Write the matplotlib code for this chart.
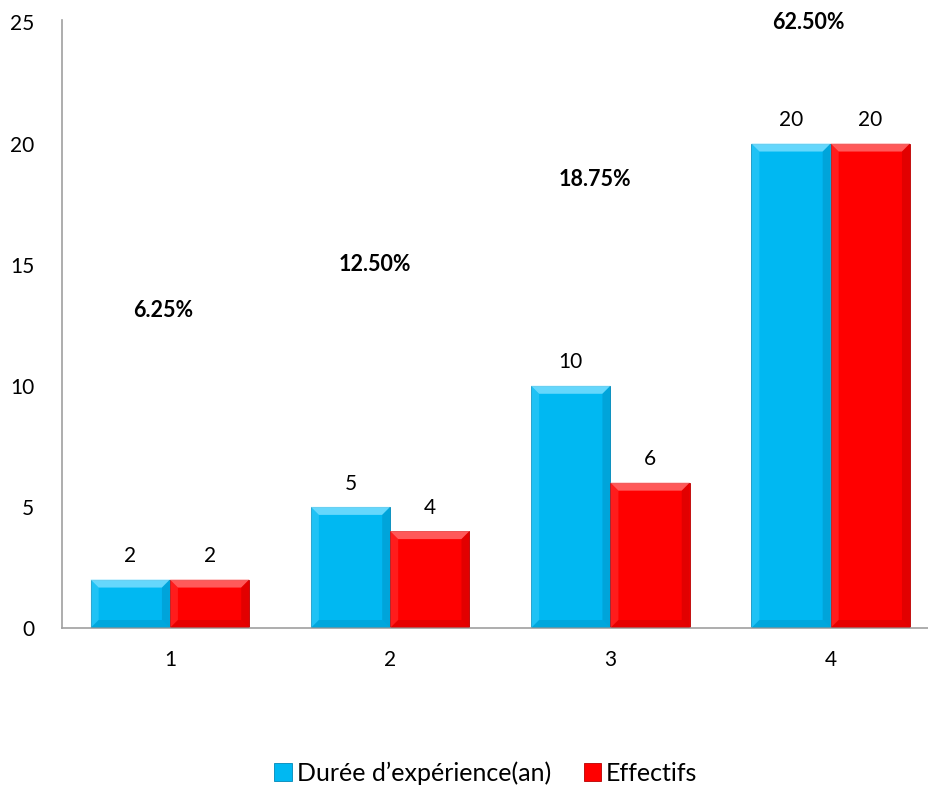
import matplotlib
matplotlib.use("Agg")
import matplotlib.pyplot as plt
from matplotlib.patches import Polygon
import numpy as np

plt.rcParams['font.family'] = ['Lato', 'DejaVu Sans']

categories = ["1", "2", "3", "4"]
duree = [2, 5, 10, 20]
effectifs = [2, 4, 6, 20]
pct_labels = ["6.25%", "12.50%", "18.75%", "62.50%"]
pct_y = [13.1, 15.0, 18.5, 25.0]
pct_dx = [-0.03, -0.07, -0.07, -0.10]

series = [
    ("Durée d\u2019expérience(an)", duree, "#00b8f2", "#7fe0ff", "#0088b8"),
    ("Effectifs", effectifs, "#ff0000", "#ff7070", "#b80000"),
]

W, H = 929, 787
fig = plt.figure(figsize=(W / 100, H / 100), dpi=100)
ax = fig.add_axes([62 / W, 1 - 628 / H, 881 / W, 608 / H])

x = np.arange(1, len(categories) + 1)
bw = 0.36

ax.set_xlim(0.51, len(categories) + 0.51)
ax.set_ylim(0, 25.1)


def bevel(ax, bar, light, dark, px=8):
    # Bevelled look on a bar: light top facet, soft shaded side and bottom facets
    x0, y0 = bar.get_x(), bar.get_y()
    w, h = bar.get_width(), bar.get_height()
    inv = ax.transData.inverted()
    p0 = ax.transData.transform((x0, y0))
    dx = inv.transform(p0 + np.array([px, 0]))[0] - x0
    dy = inv.transform(p0 + np.array([0, px]))[1] - y0
    dx = min(dx, w / 2)
    dy = min(dy, h / 2)
    x1, y1 = x0 + w, y0 + h
    faces = [
        ([(x0, y1), (x1, y1), (x1 - dx, y1 - dy), (x0 + dx, y1 - dy)], light, 0.8),
        ([(x0, y0), (x0, y1), (x0 + dx, y1 - dy), (x0 + dx, y0 + dy)], light, 0.25),
        ([(x1, y0), (x1, y1), (x1 - dx, y1 - dy), (x1 - dx, y0 + dy)], dark, 0.4),
        ([(x0, y0), (x1, y0), (x1 - dx, y0 + dy), (x0 + dx, y0 + dy)], dark, 0.35),
    ]
    for pts, c, a in faces:
        ax.add_patch(Polygon(pts, closed=True, facecolor=c, edgecolor="none",
                             alpha=a, zorder=3))


handles = []
for i, (name, vals, col, light, dark) in enumerate(series):
    offs = -bw / 2 if i == 0 else bw / 2
    bars = ax.bar(x + offs, vals, bw, color=col, edgecolor=dark, linewidth=0.6,
                  zorder=2, label=name)
    handles.append(bars)
    for b, v in zip(bars, vals):
        bevel(ax, b, light, dark)
        ax.text(b.get_x() + b.get_width() / 2, v + 0.55, str(v), ha="center",
                va="bottom", fontsize=15, color="black")

for xi, lab, yy, d in zip(x, pct_labels, pct_y, pct_dx):
    ax.text(xi + d, yy, lab, ha="center", va="center", fontsize=15.5,
            fontweight="bold", color="black", clip_on=False)

for s in ["top", "right"]:
    ax.spines[s].set_visible(False)
for s in ["left", "bottom"]:
    ax.spines[s].set_color("#a0a0a0")
    ax.spines[s].set_linewidth(1.2)

ax.set_xticks(x)
ax.set_xticklabels(categories)
ax.set_yticks(np.arange(0, 26, 5))
ax.tick_params(axis="both", length=0, labelsize=15)
ax.tick_params(axis="x", pad=16)
ax.tick_params(axis="y", pad=20)

fig.legend(handles=handles, loc="center", bbox_to_anchor=(486 / W, 1 - 773 / H),
           ncol=2, frameon=False, fontsize=18, handlelength=0.7,
           handleheight=0.7, columnspacing=1.3, handletextpad=0.2)

fig.savefig("out.png", dpi=100)
